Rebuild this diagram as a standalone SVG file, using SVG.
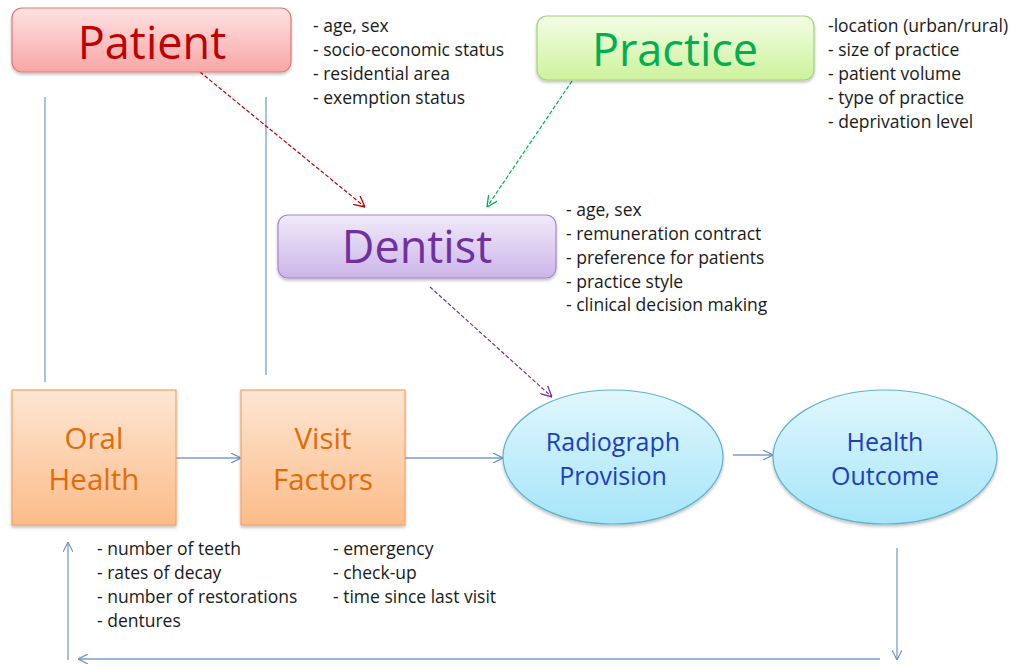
<svg xmlns="http://www.w3.org/2000/svg" width="1016" height="666" viewBox="0 0 1016 666">
<defs>
<linearGradient id="gRed" x1="0" y1="0" x2="0" y2="1"><stop offset="0" stop-color="#fde2e2"/><stop offset="1" stop-color="#f8a6a6"/></linearGradient>
<linearGradient id="gGreen" x1="0" y1="0" x2="0" y2="1"><stop offset="0" stop-color="#f3fde6"/><stop offset="1" stop-color="#cdf29c"/></linearGradient>
<linearGradient id="gPurple" x1="0" y1="0" x2="0" y2="1"><stop offset="0" stop-color="#f1eafa"/><stop offset="1" stop-color="#ccb5e9"/></linearGradient>
<linearGradient id="gOrange" x1="0" y1="0" x2="0" y2="1"><stop offset="0" stop-color="#fde6d4"/><stop offset="1" stop-color="#fbbc88"/></linearGradient>
<linearGradient id="gBlue" x1="0" y1="0" x2="0" y2="1"><stop offset="0" stop-color="#e0f7fd"/><stop offset="1" stop-color="#a6e5f9"/></linearGradient>
<filter id="sh" x="-10%" y="-10%" width="120%" height="130%"><feDropShadow dx="0" dy="2" stdDeviation="1.5" flood-color="#000" flood-opacity="0.25"/></filter>
<marker id="aBlue" viewBox="0 0 10 10" refX="10" refY="5" markerWidth="10" markerHeight="10" markerUnits="userSpaceOnUse" orient="auto"><path d="M0,0 L10,5 L0,10" fill="none" stroke="#6f93c9" stroke-width="1.2"/></marker>
<marker id="aRed" viewBox="0 0 10 10" refX="10" refY="5" markerWidth="11" markerHeight="11" markerUnits="userSpaceOnUse" orient="auto"><path d="M0,0 L10,5 L0,10" fill="none" stroke="#c00000" stroke-width="1.2"/></marker>
<marker id="aGreen" viewBox="0 0 10 10" refX="10" refY="5" markerWidth="11" markerHeight="11" markerUnits="userSpaceOnUse" orient="auto"><path d="M0,0 L10,5 L0,10" fill="none" stroke="#00b050" stroke-width="1.2"/></marker>
<marker id="aPurple" viewBox="0 0 10 10" refX="10" refY="5" markerWidth="11" markerHeight="11" markerUnits="userSpaceOnUse" orient="auto"><path d="M0,0 L10,5 L0,10" fill="none" stroke="#7030a0" stroke-width="1.2"/></marker>
</defs>
<style>
.title{font-family:"Open Sans","Noto Sans",sans-serif;text-anchor:middle}
.big{font-size:45px}
.mid{font-size:29.5px}
.oval{font-size:25px;fill:#1c3fc4}
.list{font-family:"Open Sans","Noto Sans",sans-serif;font-size:17.5px;fill:#1a1a1a}
.blue{stroke:#7a9dd0;stroke-width:1.3;fill:none}
.dash{stroke-width:1.2;fill:none;stroke-dasharray:4,2}
</style>
<rect width="1016" height="666" fill="#ffffff"/>

<g id="connectors">
<line class="blue" x1="45" y1="97" x2="45" y2="382"/>
<line class="blue" x1="266" y1="97" x2="266" y2="375"/>
<line class="blue" x1="176" y1="458" x2="241" y2="458" marker-end="url(#aBlue)"/>
<line class="blue" x1="405" y1="458" x2="503" y2="458" marker-end="url(#aBlue)"/>
<line class="blue" x1="733" y1="455" x2="773" y2="455" marker-end="url(#aBlue)"/>
<line class="blue" x1="897" y1="548" x2="897" y2="660" marker-end="url(#aBlue)"/>
<line class="blue" x1="880" y1="659" x2="78" y2="659" marker-end="url(#aBlue)"/>
<line class="blue" x1="68" y1="660" x2="68" y2="542" marker-end="url(#aBlue)"/>
<line class="dash" stroke="#c00000" x1="200" y1="72" x2="365" y2="207" marker-end="url(#aRed)"/>
<line class="dash" stroke="#00b050" x1="572" y1="81" x2="487" y2="207" marker-end="url(#aGreen)"/>
<line class="dash" stroke="#7030a0" x1="430" y1="287" x2="552" y2="397" marker-end="url(#aPurple)"/>
</g>

<g id="patient">
<rect x="12" y="8" width="279" height="64" rx="10" fill="url(#gRed)" stroke="#e07878" stroke-width="1.2" filter="url(#sh)"/>
<text class="title big" x="152" y="59" fill="#c00000">Patient</text>
</g>
<g id="patient-attrs">
<text class="list" x="313" y="32">- age, sex</text>
<text class="list" x="313" y="56">- socio-economic status</text>
<text class="list" x="313" y="80">- residential area</text>
<text class="list" x="313" y="104">- exemption status</text>
</g>

<g id="practice">
<rect x="537" y="16" width="277" height="64" rx="10" fill="url(#gGreen)" stroke="#a6d07a" stroke-width="1.2" filter="url(#sh)"/>
<text class="title big" x="675" y="66" fill="#00b050">Practice</text>
</g>
<g id="practice-attrs">
<text class="list" x="828" y="32">-location (urban/rural)</text>
<text class="list" x="828" y="56">- size of practice</text>
<text class="list" x="828" y="80">- patient volume</text>
<text class="list" x="828" y="104">- type of practice</text>
<text class="list" x="828" y="128">- deprivation level</text>
</g>

<g id="dentist">
<rect x="278" y="215" width="278" height="63" rx="10" fill="url(#gPurple)" stroke="#a585cc" stroke-width="1.2" filter="url(#sh)"/>
<text class="title big" x="417" y="263" fill="#7030a0">Dentist</text>
</g>
<g id="dentist-attrs">
<text class="list" x="566" y="216">- age, sex</text>
<text class="list" x="566" y="240">- remuneration contract</text>
<text class="list" x="566" y="264">- preference for patients</text>
<text class="list" x="566" y="288">- practice style</text>
<text class="list" x="566" y="311">- clinical decision making</text>
</g>

<g id="oral-health">
<rect x="12" y="390" width="164" height="135" fill="url(#gOrange)" stroke="#f3a465" stroke-width="1.2" filter="url(#sh)"/>
<text class="title mid" x="94" y="449" fill="#e36c0a">Oral</text>
<text class="title mid" x="94" y="490" fill="#e36c0a">Health</text>
</g>
<g id="oral-attrs">
<text class="list" x="97" y="555">- number of teeth</text>
<text class="list" x="97" y="579">- rates of decay</text>
<text class="list" x="97" y="603">- number of restorations</text>
<text class="list" x="97" y="627">- dentures</text>
</g>

<g id="visit-factors">
<rect x="241" y="390" width="164" height="135" fill="url(#gOrange)" stroke="#f3a465" stroke-width="1.2" filter="url(#sh)"/>
<text class="title mid" x="323" y="449" fill="#e36c0a">Visit</text>
<text class="title mid" x="323" y="490" fill="#e36c0a">Factors</text>
</g>
<g id="visit-attrs">
<text class="list" x="333" y="555">- emergency</text>
<text class="list" x="333" y="579">- check-up</text>
<text class="list" x="333" y="603">- time since last visit</text>
</g>

<g id="radiograph-provision">
<ellipse cx="613" cy="457" rx="110" ry="67" fill="url(#gBlue)" stroke="#62b2cc" stroke-width="1.2" filter="url(#sh)"/>
<text class="title oval" x="613" y="451">Radiograph</text>
<text class="title oval" x="613" y="485">Provision</text>
</g>

<g id="health-outcome">
<ellipse cx="885" cy="457" rx="112" ry="67" fill="url(#gBlue)" stroke="#62b2cc" stroke-width="1.2" filter="url(#sh)"/>
<text class="title oval" x="885" y="451">Health</text>
<text class="title oval" x="885" y="485">Outcome</text>
</g>
</svg>
